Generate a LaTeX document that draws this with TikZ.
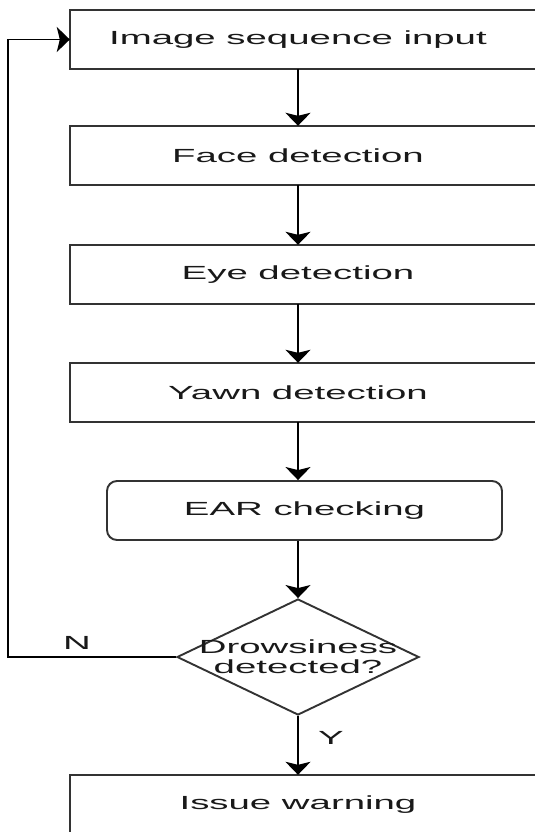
\documentclass[tikz,border=0pt]{standalone}
\usepackage{fontspec}
\setmainfont{Liberation Sans}[FakeStretch=2.02]
\usetikzlibrary{shapes.geometric,arrows.meta}

\begin{document}
\begin{tikzpicture}
      [x=1bp, y=-1bp, font=\fontsize{19bp}{20bp}\selectfont,
       stepbox/.style={minimum width=456bp, minimum height=59bp, inner sep=0pt, text=black!90},
       frame/.style={draw=black!80, line width=1.9bp},
       checkbox/.style={frame, rounded corners=10bp, minimum width=395bp, minimum height=59bp, inner sep=0pt, text=black!90},
       decision/.style={frame, diamond, minimum width=242bp, minimum height=116bp, inner sep=0pt},
       flow/.style={line width=1.9bp, -{Stealth[length=13bp, width=25bp, inset=3bp]}}]
      \useasboundingbox (0, 0) rectangle (535, 832);
      \clip (0, 0) rectangle (535, 832);

      \node[stepbox] (input) at (298, 39.5) {Image sequence input};
      \node[stepbox] (face) at (298, 155.5) {Face detection};
      \node[stepbox] (eye) at (298, 274.5) {Eye detection};
      \node[stepbox] (yawn) at (298, 392.5) {Yawn detection};
      \node[checkbox] (ear) at (304.5, 510.5) {EAR checking};
      \node[decision] (drowsy) at (298, 657) {};
      \node[align=center, text=black!90] (drowsytext) at (drowsy.center) {Drowsiness\\detected?};
      \node[stepbox] (warn) at (298, 804.5) {Issue warning};

      % boxes run past the right edge
      \foreach \n in {input, face, eye, yawn, warn}
        \draw[frame] ([xshift=60bp]\n.north east) -| (\n.south west) -- ([xshift=60bp]\n.south east);

      \draw[flow] (input.south) -- (face.north);
      \draw[flow] (face.south) -- (eye.north);
      \draw[flow] (eye.south) -- (yawn.north);
      \draw[flow] (yawn.south) -- (yawn.south |- ear.north);
      \draw[flow] (yawn.south |- ear.south) -- (drowsy.north);
      \draw[flow] (drowsy.south) -- (warn.north);

      % no: back to the input
      \coordinate (loop) at (8, 657);
      \draw[flow] (drowsy.west) -- (loop) |- (input.west);

      \node[text=black!90] (no) at (77, 643) {N};
      \node[text=black!90] (yes) at (331, 738) {Y};
    \end{tikzpicture}
\end{document}
